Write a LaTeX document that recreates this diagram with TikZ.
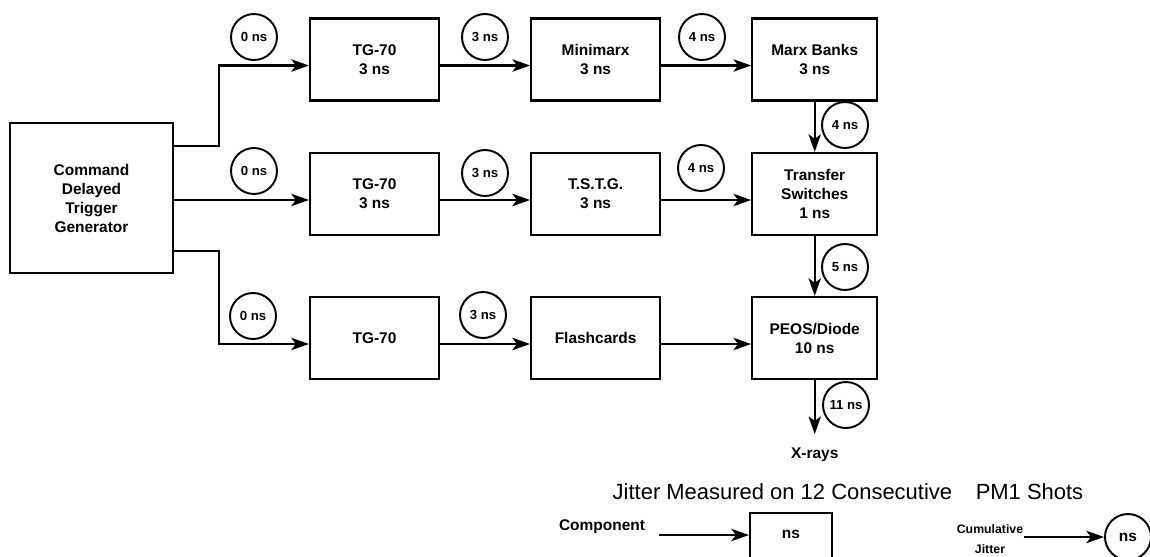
\documentclass[tikz,border=0pt]{standalone}
\usepackage{fontspec}
\setmainfont{Liberation Sans}
\usetikzlibrary{positioning,arrows.meta}

\begin{document}
\begin{tikzpicture}[
  node distance=1.8cm,
  blk/.style={draw,line width=1.2pt,align=center,
              font=\fontsize{8.8}{10.8}\selectfont\bfseries,
              minimum width=2.58cm,minimum height=1.64cm,inner sep=1pt},
  endblk/.style={blk,minimum width=2.5cm},
  tag/.style={draw,circle,line width=1.1pt,minimum size=0.92cm,inner sep=0pt,
              font=\fontsize{7.5}{9}\selectfont\bfseries},
  note/.style={align=center,font=\fontsize{8.8}{10.8}\selectfont\bfseries},
  arr/.style={line width=1.3pt,-{Stealth[length=10pt,width=7pt,inset=2.5pt]}}
]
  \path[use as bounding box,clip] (0,0) rectangle (23,-11.14);
  \node[blk,minimum width=3.26cm,minimum height=3cm] (cdtg) at (1.83,-3.96)
    {Command\\Delayed\\Trigger\\Generator};
  \node[blk] (tga) at (7.49,-1.19) {TG-70\\3 ns};
  \node[blk,right=of tga] (mmx) {Minimarx\\3 ns};
  \node[endblk,right=of mmx] (mxb) {Marx Banks\\3 ns};
  \node[blk] (tgb) at (7.49,-3.88) {TG-70\\3 ns};
  \node[blk,right=of tgb] (tstg) {T.S.T.G.\\3 ns};
  \node[endblk,right=of tstg] (tsw) {Transfer\\Switches\\1 ns};
  \node[blk] (tgc) at (7.49,-6.76) {TG-70};
  \node[blk,right=of tgc] (fc) {Flashcards};
  \node[endblk,right=of fc] (pd) {PEOS/Diode\\10 ns};
  \node[note,inner sep=0.27cm,below=1.08cm of pd] (xr) {X-rays};

  \node[tag] (ta1) at (5.08,-0.74) {0 ns};
  \node[tag] (ta2) at (9.70,-0.74) {3 ns};
  \node[tag] (ta3) at (14.04,-0.74) {4 ns};
  \node[tag] (tb1) at (5.08,-3.42) {0 ns};
  \node[tag] (tb2) at (9.70,-3.46) {3 ns};
  \node[tag] (tb3) at (14.02,-3.36) {4 ns};
  \node[tag] (tc1) at (5.06,-6.32) {0 ns};
  \node[tag] (tc2) at (9.66,-6.30) {3 ns};
  \node[tag] (tv1) at (16.9,-2.5) {4 ns};
  \node[tag] (tv2) at (16.9,-5.34) {5 ns};
  \node[tag] (tv3) at (16.92,-8.1) {11 ns};

  \coordinate (inb) at ([yshift=-0.12cm]tgb.west);
  \draw[arr] ([yshift=1.04cm]cdtg.east) -- ++(0.9,0) |- ([yshift=-0.12cm]tga.west);
  \draw[arr] (cdtg.east |- inb) -- (inb);
  \draw[arr] ([yshift=-1.06cm]cdtg.east) -- ++(0.9,0) |- ([yshift=-0.12cm]tgc.west);
  \draw[arr] ([yshift=-0.12cm]tga.east) -- ([yshift=-0.12cm]mmx.west);
  \draw[arr] ([yshift=-0.12cm]mmx.east) -- ([yshift=-0.12cm]mxb.west);
  \draw[arr] ([yshift=-0.12cm]tgb.east) -- ([yshift=-0.12cm]tstg.west);
  \draw[arr] ([yshift=-0.12cm]tstg.east) -- ([yshift=-0.12cm]tsw.west);
  \draw[arr] ([yshift=-0.12cm]tgc.east) -- ([yshift=-0.12cm]fc.west);
  \draw[arr] ([yshift=-0.12cm]fc.east) -- ([yshift=-0.12cm]pd.west);
  \draw[arr] (mxb) -- (tsw);
  \draw[arr] (tsw) -- (pd);
  \draw[arr] (pd) -- (xr);

  \node[font=\fontsize{12.5}{15}\selectfont] (ttl) at (16.96,-9.84)
    {Jitter Measured on 12 Consecutive\hspace{0.8em} PM1 Shots};
  \node[note] (comp) at (12.04,-10.54) {Component};
  \node[blk,minimum width=1.64cm,minimum height=0pt,inner ysep=0.34cm,
        text depth=1.2cm,anchor=north] (lgb) at (15.82,-10.24) {ns};
  \coordinate (lgin) at ([yshift=-0.46cm]lgb.north west);
  \draw[arr] ([xshift=0.15cm]comp.east |- lgin) -- (lgin);
  \node[note,inner sep=0pt,font=\fontsize{7}{11}\selectfont\bfseries] (cj) at (19.8,-10.78)
    {Cumulative\\Jitter};
  \node[tag,font=\fontsize{8.8}{10}\selectfont\bfseries] (cr) at (22.56,-10.74) {ns};
  \draw[arr] (cj.east |- cr) -- (cr);
\end{tikzpicture}
\end{document}
